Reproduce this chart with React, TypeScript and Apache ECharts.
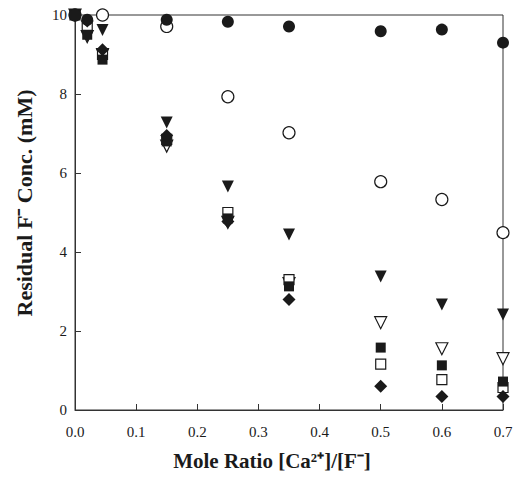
import React, { useEffect, useRef } from "react";
import * as echarts from "echarts";

const xValues = [0, 0.02, 0.045, 0.15, 0.25, 0.35, 0.5, 0.6, 0.7];
const filledCircle = [10, 9.88, null, 9.88, 9.83, 9.71, 9.59, 9.63, 9.3];
const openCircle = [10, null, 10.0, 9.71, 7.93, 7.02, 5.78, 5.33, 4.49];
const filledTriangle = [10, 9.46, 9.62, 7.28, 5.66, 4.44, 3.38, 2.67, 2.42];
const openTriangle = [10, 9.45, 9.0, 6.68, 4.75, 3.2, 2.21, 1.55, 1.3];
const filledSquare = [10, 9.5, 8.87, 6.8, 4.85, 3.13, 1.58, 1.13, 0.72];
const openSquare = [10, 9.68, 9.0, 6.85, 5.0, 3.3, 1.16, 0.77, 0.57];
const filledDiamond = [10, 9.85, 9.12, 6.95, 4.77, 2.8, 0.6, 0.34, 0.34];

const xTitle = "Mole Ratio [Ca\u00B2\u207A]/[F\u207B]";
const yTitle = "Residual F\u207B Conc. (mM)";

const pairs = (ys: (number | null)[]) =>
  xValues
    .map((x, i) => [x, ys[i]])
    .filter((p) => p[1] !== null);

const FONT = "'Liberation Serif', 'Times New Roman', serif";
const INK = "#1a1a1a";

export default function App() {
  const ref = useRef<HTMLDivElement>(null);
  useEffect(() => {
    if (!ref.current) return;
    const chart = echarts.init(ref.current, null, { renderer: "svg" });
    const mk = (
      name: string,
      data: (number | null)[],
      symbol: string,
      size: number,
      filled: boolean,
      rotate = 0
    ) => ({
      name,
      type: "scatter",
      data: pairs(data),
      symbol,
      symbolSize: size,
      symbolRotate: rotate,
      itemStyle: {
        color: filled ? INK : "#ffffff",
        borderColor: INK,
        borderWidth: filled ? 0 : 1.2,
        opacity: 1,
      },
    });
    chart.setOption({
      animation: false,
      backgroundColor: "#ffffff",
      grid: {
        left: 75,
        right: 23,
        top: 15,
        bottom: 71,
        show: true,
        borderColor: "#333",
        borderWidth: 1,
        backgroundColor: "transparent",
      },
      xAxis: {
        type: "value",
        min: 0,
        max: 0.7,
        interval: 0.1,
        axisLine: { show: true, lineStyle: { color: "#333", width: 1 } },
        axisTick: { show: true, inside: true, length: 6, lineStyle: { color: "#333" } },
        splitLine: { show: false },
        axisLabel: {
          formatter: (v: number) => v.toFixed(1),
          fontFamily: FONT,
          fontSize: 15,
          color: INK,
          margin: 14,
        },
      },
      yAxis: {
        type: "value",
        min: 0,
        max: 10,
        interval: 2,
        axisLine: { show: true, lineStyle: { color: "#333", width: 1 } },
        axisTick: { show: true, inside: true, length: 6, lineStyle: { color: "#333" } },
        splitLine: { show: false },
        axisLabel: {
          fontFamily: FONT,
          fontSize: 15,
          color: INK,
          margin: 8,
        },
      },
      graphic: [
        {
          type: "text",
          x: 272,
          y: 461,
          style: {
            text: xTitle,
            font: `bold 21px ${FONT}`,
            fill: INK,
            textAlign: "center",
            textVerticalAlign: "middle",
          },
        },
        {
          type: "text",
          x: 24,
          y: 203,
          rotation: Math.PI / 2,
          style: {
            text: yTitle,
            font: `bold 22px ${FONT}`,
            fill: INK,
            textAlign: "center",
            textVerticalAlign: "middle",
          },
        },
      ],
      series: [
        mk("openCircle", openCircle, "circle", 12, false),
        mk("openTriangle", openTriangle, "triangle", 12, false, 180),
        mk("openSquare", openSquare, "rect", 10, false),
        mk("filledTriangle", filledTriangle, "triangle", 12, true, 180),
        mk("filledSquare", filledSquare, "rect", 10, true),
        mk("filledDiamond", filledDiamond, "diamond", 13, true),
        mk("filledCircle", filledCircle, "circle", 12, true),
      ],
    });
    return () => chart.dispose();
  }, []);
  return <div ref={ref} style={{ width: 526, height: 481, marginLeft: -8, marginTop: -8 }} />;
}
